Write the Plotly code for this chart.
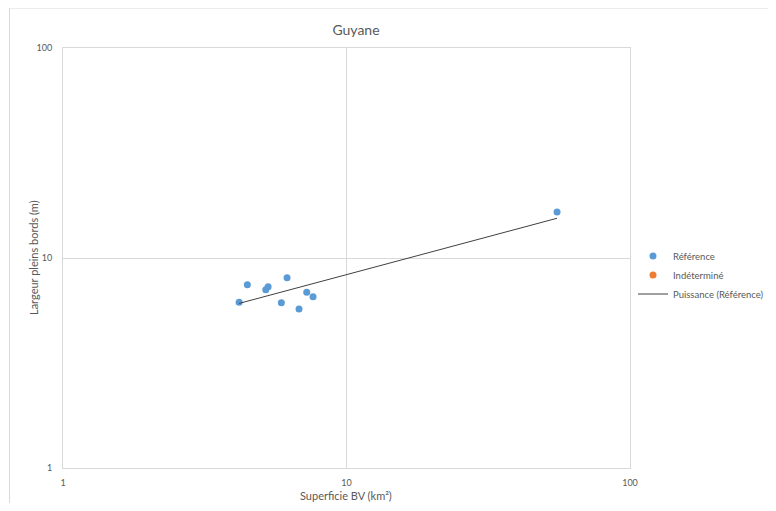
import numpy as np
import plotly.graph_objects as go

# Data
superficie_ref = [4.18, 4.47, 5.19, 5.29, 6.17, 5.89, 7.24, 7.62, 6.80, 55.3]
largeur_ref = [6.15, 7.46, 7.06, 7.30, 8.06, 6.13, 6.87, 6.54, 5.72, 16.56]
superficie_ind = []
largeur_ind = []

title_text = "Guyane"
x_title = "Superficie BV (km²)"
y_title = "Largeur pleins bords (m)"

# Power trend line (least squares on logs, like Excel "Puissance")
lx = np.log10(superficie_ref)
ly = np.log10(largeur_ref)
b, a = np.polyfit(lx, ly, 1)
x_fit = np.array([min(superficie_ref), max(superficie_ref)])
y_fit = 10 ** a * x_fit ** b

FONT = "Lato, Carlito, 'Open Sans', sans-serif"
GREY = "#595959"
GRID = "#D9D9D9"

# page body has an 8px margin: work in figure coords = viewport - 8
OFF = 8
W, H = 776 - 2 * OFF, 511 - 2 * OFF
L, R, T, B = 63 - OFF, 630 - OFF, 48 - OFF, 468 - OFF
pw, ph = R - L, B - T

def px_x(v):  # viewport px -> paper x
    return (v - OFF - L) / pw

def px_y(v):  # viewport px -> paper y
    return (B - (v - OFF)) / ph

fig = go.Figure()
fig.add_trace(go.Scatter(x=superficie_ref, y=largeur_ref, mode="markers", name="Référence",
                         marker=dict(color="#5B9BD5", size=7)))
fig.add_trace(go.Scatter(x=superficie_ind if superficie_ind else [None],
                         y=largeur_ind if largeur_ind else [None],
                         mode="markers", name="Indéterminé",
                         marker=dict(color="#ED7D31", size=7)))
fig.add_trace(go.Scatter(x=x_fit, y=y_fit, mode="lines", name="Puissance (Référence)",
                         line=dict(color="#404040", width=1)))

fig.update_layout(
    width=W, height=H,
    margin=dict(l=L, r=W - R, t=T, b=H - B, autoexpand=False),
    paper_bgcolor="white", plot_bgcolor="white",
    font=dict(family=FONT, color=GREY, size=10),
    title=dict(text=title_text, x=(356 - OFF) / W, xanchor="center", y=1 - (30 - OFF) / H, yanchor="middle",
               font=dict(size=14, color=GREY, family=FONT)),
    xaxis=dict(type="log", range=[0, 2], dtick=1, showgrid=True, gridcolor=GRID, gridwidth=1,
               showline=True, linecolor=GRID, mirror=True, zeroline=False,
               ticks="", tickfont=dict(size=9, color=GREY), ticklabelstandoff=6),
    yaxis=dict(type="log", range=[0, 2], dtick=1, showgrid=True, gridcolor=GRID, gridwidth=1,
               showline=True, linecolor=GRID, mirror=True, zeroline=False,
               ticks="", tickfont=dict(size=9, color=GREY), ticklabelstandoff=8),
    legend=dict(x=px_x(633), xanchor="left", y=px_y(275), yanchor="middle",
                font=dict(size=9.5, color=GREY, family=FONT), tracegroupgap=0,
                itemwidth=30, bgcolor="rgba(0,0,0,0)"),
    showlegend=True,
)

fig.add_annotation(text=x_title, xref="paper", yref="paper", x=px_x(346), y=px_y(495),
                   xanchor="center", yanchor="middle", showarrow=False,
                   font=dict(size=11, color=GREY, family=FONT))
fig.add_annotation(text=y_title, xref="paper", yref="paper", x=px_x(33), y=px_y(258),
                   xanchor="center", yanchor="middle", showarrow=False, textangle=-90,
                   font=dict(size=11, color=GREY, family=FONT))

# outer chart border (cropped on right and bottom like the reference)
fig.add_shape(type="rect", xref="paper", yref="paper",
              x0=px_x(9.5), x1=px_x(790),
              y0=px_y(525), y1=px_y(8),
              line=dict(color="#D9D9D9", width=1), layer="below")

fig.write_html("out.html")
